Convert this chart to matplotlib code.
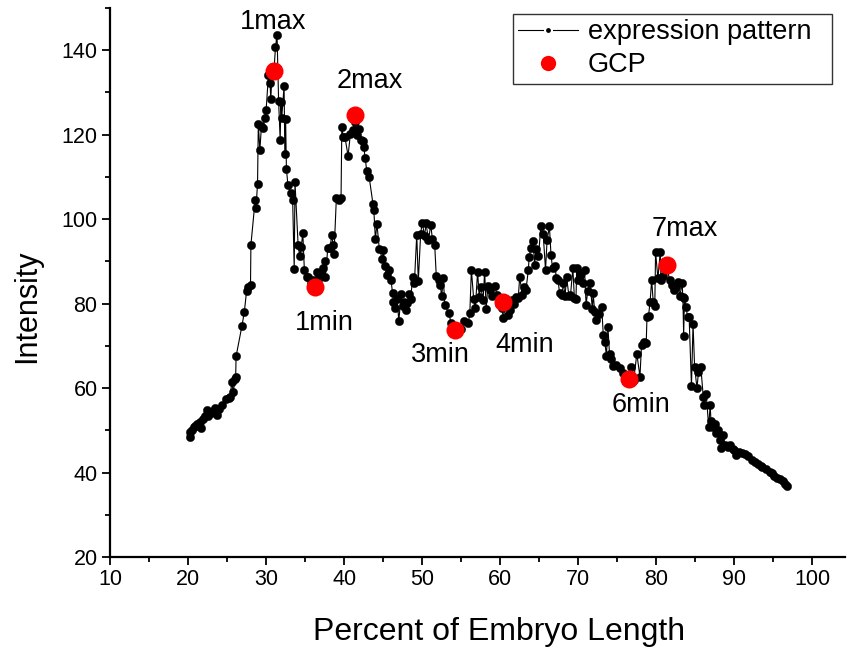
import numpy as np
import matplotlib
matplotlib.use("Agg")
import matplotlib.pyplot as plt
from matplotlib.lines import Line2D
from matplotlib.ticker import MultipleLocator

plt.rcParams['font.family'] = ['Liberation Sans', 'DejaVu Sans']

# expression pattern (percent of embryo length, intensity)
pos = [20.2, 20.3, 20.5, 20.7, 20.9, 21.2, 21.5, 21.7, 21.9, 22.2, 22.4, 22.6, 22.9, 23.2,
       23.4, 23.7, 24.0, 24.4, 24.9, 25.2, 25.4, 25.6, 25.8, 26.0, 26.1, 26.15, 26.9, 27.2,
       27.5, 27.7, 28.0, 28.05, 28.6, 28.7, 28.9, 29.0, 29.2, 29.4, 29.6, 29.8, 30.0, 30.3,
       30.5, 30.6, 30.8, 31.0, 31.2, 31.4, 31.6, 31.8, 31.9, 32.0, 32.3, 32.4, 32.5, 32.6,
       32.8, 33.2, 33.4, 33.6, 33.7, 34.1, 34.3, 34.5, 34.7, 34.9, 35.2, 35.4, 35.7, 36.0,
       36.2, 36.5, 36.8, 37.0, 37.3, 37.5, 37.6, 37.9, 38.2, 38.4, 38.6, 38.7, 39.0, 39.3,
       39.6, 39.7, 39.9, 40.1, 40.5, 40.8, 41.1, 41.4, 41.7, 41.9, 42.2, 42.4, 42.5, 42.7,
       42.9, 43.2, 43.7, 43.8, 44.0, 44.2, 44.5, 44.9, 45.0, 45.2, 45.5, 45.8, 46.0, 46.2,
       46.3, 46.5, 46.8, 47.0, 47.3, 47.5, 47.7, 47.9, 48.1, 48.3, 48.5, 48.8, 49.0, 49.3,
       49.5, 49.8, 50.0, 50.3, 50.5, 50.8, 51.1, 51.3, 51.6, 51.8, 52.1, 52.3, 52.5, 52.7,
       52.9, 53.4, 53.7, 54.0, 54.2, 54.6, 55.0, 55.4, 55.9, 56.1, 56.3, 56.6, 56.8, 57.1,
       57.3, 57.5, 57.8, 58.0, 58.2, 58.4, 58.7, 59.0, 59.3, 59.6, 59.9, 60.2, 60.4, 60.7,
       61.0, 61.2, 61.5, 61.8, 62.0, 62.3, 62.5, 62.8, 63.0, 63.3, 63.6, 63.7, 63.9, 64.2,
       64.4, 64.6, 64.9, 65.2, 65.5, 65.8, 66.0, 66.3, 66.5, 66.7, 67.0, 67.2, 67.4, 67.6,
       67.9, 68.1, 68.3, 68.5, 68.8, 69.0, 69.3, 69.5, 69.7, 69.8, 70.0, 70.2, 70.4, 70.6,
       70.8, 71.0, 71.2, 71.5, 71.8, 71.9, 72.1, 72.3, 72.6, 73.0, 73.2, 73.4, 73.6, 73.8,
       74.0, 74.2, 74.4, 74.8, 75.3, 75.7, 76.1, 76.5, 76.8, 77.1, 77.5, 77.9, 78.1, 78.4,
       78.7, 78.8, 79.0, 79.2, 79.4, 79.6, 79.8, 79.9, 80.2, 80.5, 80.6, 80.9, 81.2, 81.4,
       81.7, 82.0, 82.3, 82.5, 82.8, 83.0, 83.3, 83.4, 83.5, 83.6, 83.8, 84.0, 84.2, 84.5,
       84.7, 84.9, 85.2, 85.4, 85.7, 86.0, 86.1, 86.4, 86.7, 86.9, 87.0, 87.2, 87.5, 87.6,
       87.9, 88.2, 88.3, 88.5, 88.8, 89.2, 89.5, 89.8, 90.0, 90.2, 90.6, 91.0, 91.4, 91.7,
       92.2, 92.6, 93.0, 93.4, 93.6, 94.0, 94.5, 94.8, 95.1, 95.5, 95.8, 96.2, 96.5, 96.7]
intensity = [48.4, 49.5, 50.0, 50.7, 51.0, 51.6, 52.0, 50.6, 52.7, 53.5, 54.8, 53.4, 54.2, 54.6,
             55.3, 53.6, 55.0, 56.0, 57.4, 57.7, 58.0, 61.5, 59.0, 62.2, 62.6, 67.5, 74.7, 77.9,
             83.0, 84.0, 84.5, 93.9, 104.6, 102.6, 108.3, 122.5, 116.4, 122.0, 121.5, 124.0, 125.8, 134.2,
             132.2, 128.5, 136.0, 135.0, 140.7, 143.7, 128.0, 118.8, 127.7, 124.0, 131.5, 115.5, 123.6, 111.9,
             108.0, 106.2, 104.6, 88.2, 108.7, 93.9, 91.3, 93.4, 96.7, 88.0, 86.4, 86.3, 85.0, 85.5,
             83.6, 87.6, 86.0, 87.0, 88.4, 90.0, 86.4, 93.1, 93.1, 96.3, 93.9, 91.8, 105.0, 104.5,
             105.0, 121.8, 119.4, 119.4, 115.0, 120.2, 121.0, 123.0, 120.0, 121.3, 118.8, 118.4, 117.2, 114.4,
             111.3, 110.0, 103.6, 102.2, 95.2, 98.9, 93.0, 90.5, 92.7, 89.0, 86.8, 88.0, 85.6, 82.5,
             80.5, 78.9, 81.0, 75.8, 82.3, 79.5, 80.5, 78.5, 80.1, 82.3, 81.0, 86.4, 85.0, 96.3,
             85.3, 96.5, 99.2, 96.1, 99.0, 95.0, 98.7, 95.3, 93.9, 86.6, 85.5, 84.5, 81.7, 86.0,
             79.7, 77.7, 75.5, 74.5, 73.5, 73.5, 74.0, 76.0, 75.4, 77.7, 88.0, 81.0, 78.9, 87.6,
             81.5, 84.0, 80.9, 87.6, 78.7, 84.1, 83.3, 81.7, 84.1, 82.0, 80.0, 79.0, 76.6, 80.5,
             77.3, 78.5, 80.9, 80.0, 81.5, 81.3, 86.4, 82.1, 84.0, 83.3, 88.0, 91.0, 93.1, 94.9,
             89.2, 93.0, 91.3, 98.3, 96.5, 88.0, 95.0, 98.3, 91.6, 88.4, 89.0, 86.0, 85.6, 82.5,
             82.0, 85.0, 81.7, 86.4, 81.7, 82.0, 88.4, 81.3, 81.1, 88.4, 85.6, 87.0, 87.2, 84.8,
             88.0, 79.7, 82.9, 85.0, 78.7, 82.5, 78.1, 76.2, 77.5, 79.2, 72.6, 71.0, 67.6, 74.4,
             68.0, 67.0, 65.3, 65.5, 64.7, 63.5, 63.0, 62.0, 65.1, 62.0, 68.1, 62.7, 70.2, 71.0,
             70.6, 76.8, 77.1, 80.5, 85.5, 80.5, 79.5, 92.2, 86.0, 92.2, 85.5, 86.5, 90.0, 88.5,
             85.5, 84.5, 83.3, 84.0, 85.2, 81.7, 84.8, 81.5, 72.4, 81.3, 79.2, 76.9, 76.8, 60.4,
             75.2, 65.1, 60.0, 63.7, 64.9, 58.0, 56.0, 58.5, 50.9, 55.9, 52.1, 50.9, 51.5, 49.3,
             50.0, 47.7, 45.7, 48.9, 46.5, 46.1, 46.5, 45.5, 45.3, 44.2, 44.8, 44.7, 44.3, 43.8,
             43.0, 42.5, 42.0, 41.6, 41.3, 40.8, 40.2, 39.8, 39.2, 38.8, 38.5, 37.9, 37.2, 36.7]

# GCP points
gcp_pos = [31.0, 36.2, 41.4, 54.2, 60.4, 76.5, 81.4]
gcp_int = [135.2, 84.0, 124.7, 73.8, 80.4, 62.2, 89.2]
gcp_labels = ['1max', '1min', '2max', '3min', '4min', '6min', '7max']
label_x = [30.9, 37.5, 43.3, 52.3, 63.1, 78.0, 83.6]
label_y = [146.8, 75.5, 132.8, 67.9, 70.2, 56.0, 97.7]

fig = plt.figure(figsize=(8.47, 6.51), dpi=100)
ax = fig.add_axes([0.1299, 0.1444, 0.868, 0.8433])

ax.plot(pos, intensity, '-', color='black', linewidth=0.8,
        marker='o', markersize=6, markerfacecolor='black', markeredgecolor='black',
        markeredgewidth=0.3, zorder=2)
ax.plot(gcp_pos, gcp_int, 'o', color='red', markersize=13, markeredgewidth=0, zorder=3)

for lx, ly, s in zip(label_x, label_y, gcp_labels):
    ax.text(lx, ly, s, fontsize=19.5, ha='center', va='center', color='black')

ax.set_xlim(10, 104.2)
ax.set_ylim(20, 150)
ax.xaxis.set_major_locator(MultipleLocator(10))
ax.xaxis.set_minor_locator(MultipleLocator(5))
ax.yaxis.set_major_locator(MultipleLocator(20))
ax.yaxis.set_minor_locator(MultipleLocator(10))
ax.set_yticks(np.arange(20, 141, 20))
ax.set_xticks(np.arange(10, 101, 10))

for side in ['top', 'right']:
    ax.spines[side].set_visible(False)
for side in ['left', 'bottom']:
    ax.spines[side].set_linewidth(1.6)

ax.tick_params(which='major', direction='out', length=6, width=1.3, labelsize=15.5, pad=3)
ax.tick_params(which='minor', direction='out', length=3.5, width=1.3)

ax.set_xlabel('Percent of Embryo Length', fontsize=23)
ax.xaxis.set_label_coords(0.529, -0.109)
ax.set_ylabel('Intensity', fontsize=22)
ax.yaxis.set_label_coords(-0.093, 0.457)

handles = [
    Line2D([], [], color='black', linewidth=0.8, marker='o', markersize=5,
           markerfacecolor='black', markeredgecolor='white', markeredgewidth=1.5),
    Line2D([], [], color='red', linestyle='none', marker='o', markersize=11, markeredgewidth=0),
]
leg = ax.legend(handles, ['expression pattern  ', 'GCP'], loc='upper left',
                bbox_to_anchor=((513 - 110) / 735.2, (557 - 14) / 549),
                fontsize=19.5, frameon=True, fancybox=False,
                borderpad=0.2, labelspacing=0.26, handlelength=2.2, handletextpad=0.37,
                borderaxespad=0)
leg.get_frame().set_edgecolor('black')
leg.get_frame().set_linewidth(1.0)

fig.savefig('out.png', dpi=100)
